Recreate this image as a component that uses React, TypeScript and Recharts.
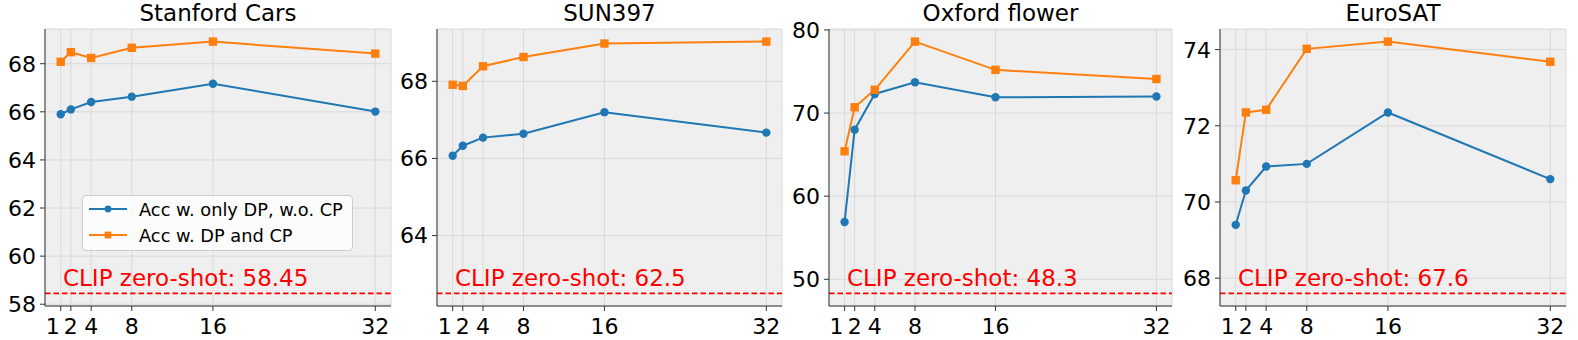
import { LineChart, Line, XAxis, YAxis, CartesianGrid, ReferenceLine } from "recharts";

const shots = [1, 2, 4, 8, 16, 32];

const carsOnlyDp = [65.9, 66.1, 66.41, 66.63, 67.17, 66.01];
const carsDpCp = [68.08, 68.48, 68.24, 68.66, 68.92, 68.42];
const sunOnlyDp = [66.07, 66.33, 66.54, 66.64, 67.2, 66.67];
const sunDpCp = [67.91, 67.88, 68.39, 68.63, 68.98, 69.03];
const flowerOnlyDp = [56.9, 68.0, 72.3, 73.7, 71.9, 72.0];
const flowerDpCp = [65.4, 70.7, 72.8, 78.6, 75.2, 74.1];
const eurosatOnlyDp = [69.4, 70.3, 70.93, 71.0, 72.35, 70.6];
const eurosatDpCp = [70.57, 72.35, 72.42, 74.02, 74.21, 73.68];

const titles = ["Stanford Cars", "SUN397", "Oxford flower", "EuroSAT"];
const zeroShot = [58.45, 62.5, 48.3, 67.6];
const yTicks = [
    [58, 60, 62, 64, 66, 68],
    [64, 66, 68],
    [50, 60, 70, 80],
    [68, 70, 72, 74],
];
const seriesNames = ["Acc w. only DP, w.o. CP", "Acc w. DP and CP"];

const onlyDp = [carsOnlyDp, sunOnlyDp, flowerOnlyDp, eurosatOnlyDp];
const dpCp = [carsDpCp, sunDpCp, flowerDpCp, eurosatDpCp];

// plot-area left/right edges for each panel (px)
const PLOT_X = [
    [45, 391],
    [437, 782],
    [829, 1172],
    [1220, 1566],
];

const BLUE = "#1f77b4";
const ORANGE = "#ff7f0e";
const RED = "#ff0000";
const FONT = "'DejaVu Sans', sans-serif";
const Y_AXIS_W = 45;
const TOP = 29;
const X_AXIS_H = 34;
const H = 340;
const TICK_FS = 22;

// matplotlib style 5% auto margins
function pad(lo: number, hi: number): [number, number] {
    const m = (hi - lo) * 0.05;
    return [lo - m, hi + m];
}

function SquareDot(props: any) {
    const { cx, cy } = props;
    if (cx == null || cy == null) return null;
    return <rect x={cx - 4.2} y={cy - 4.2} width={8.4} height={8.4} fill={ORANGE} />;
}

function XTick(props: any) {
    const { x, y, payload } = props;
    // the "1" label sits a bit left of its tick in the original
    const dx = payload.value === 1 ? -8 : 0;
    return (
        <text x={x + dx} y={y} dy="0.78em" textAnchor="middle" fontSize={TICK_FS} fontFamily={FONT} fill="#000">
            {payload.value}
        </text>
    );
}

function YTick(props: any) {
    const { x, y, payload } = props;
    return (
        <text x={x} y={y} dy="0.36em" textAnchor="end" fontSize={TICK_FS} fontFamily={FONT} fill="#000">
            {payload.value}
        </text>
    );
}

function ZeroShotLabel(props: any) {
    const { viewBox, text } = props;
    if (!viewBox) return null;
    return (
        <text x={viewBox.x + 18} y={viewBox.y - 7} fill={RED} fontSize={23} fontFamily={FONT}>
            {text}
        </text>
    );
}

function Panel({ idx }: { idx: number }) {
    const [plotL, plotR] = PLOT_X[idx];
    const left = plotL - Y_AXIS_W;
    const width = plotR - left + 2;
    const data = shots.map((s, i) => ({ shot: s, onlyDp: onlyDp[idx][i], dpCp: dpCp[idx][i] }));
    const all = [...onlyDp[idx], ...dpCp[idx], zeroShot[idx]];
    const yDomain = pad(Math.min(...all), Math.max(...all));
    const xDomain = pad(shots[0], shots[shots.length - 1]);

    return (
        <div style={{ position: "absolute", left, top: 0, width, height: H }}>
            <div
                style={{
                    position: "absolute", left: Y_AXIS_W, width: plotR - plotL, top: 2,
                    textAlign: "center", fontSize: 23, lineHeight: "23px", color: "#000",
                }}
            >
                {titles[idx]}
            </div>
            <LineChart width={width} height={H} data={data} margin={{ top: TOP, right: 2, bottom: 0, left: 0 }}>
                <CartesianGrid stroke="#d9d9d9" fill="#efefef" />
                <XAxis
                    dataKey="shot" type="number" domain={xDomain} ticks={shots} allowDataOverflow
                    height={X_AXIS_H} tick={<XTick />} tickSize={5} tickMargin={6}
                    stroke="#333" interval={0}
                />
                <XAxis
                    xAxisId="top" orientation="top" dataKey="shot" type="number" domain={xDomain}
                    height={0} tick={false} tickLine={false} stroke="#333"
                />
                <YAxis
                    type="number" domain={yDomain} ticks={yTicks[idx]} allowDataOverflow
                    width={Y_AXIS_W} tick={<YTick />} tickSize={5} tickMargin={4}
                    stroke="#333" interval={0}
                />
                <YAxis
                    yAxisId="right" orientation="right" type="number" domain={yDomain}
                    width={0} tick={false} tickLine={false} stroke="#333"
                />
                <ReferenceLine
                    y={zeroShot[idx]} stroke={RED} strokeWidth={1.8} strokeDasharray="5.5 3"
                    label={<ZeroShotLabel text={`CLIP zero-shot: ${zeroShot[idx]}`} />}
                />
                <Line
                    dataKey="onlyDp" name={seriesNames[0]} stroke={BLUE} strokeWidth={2}
                    dot={{ r: 4.2, fill: BLUE, stroke: BLUE, strokeWidth: 0 }}
                    isAnimationActive={false}
                />
                <Line
                    dataKey="dpCp" name={seriesNames[1]} stroke={ORANGE} strokeWidth={2}
                    dot={(p: any) => <SquareDot key={p.index} {...p} />}
                    isAnimationActive={false}
                />
            </LineChart>
        </div>
    );
}

function LegendBox() {
    return (
        <div
            style={{
                position: "absolute", left: 82, top: 195, width: 271, height: 56,
                boxSizing: "border-box", border: "1px solid #cccccc", borderRadius: 4,
                background: "rgba(255,255,255,0.8)",
            }}
        >
            <svg width={269} height={54} style={{ position: "absolute", left: 0, top: 0 }}>
                <line x1={6} x2={44} y1={13} y2={13} stroke={BLUE} strokeWidth={2} />
                <circle cx={25} cy={13} r={3.4} fill={BLUE} />
                <text x={56} y={20} fontSize={17.8} fontFamily={FONT} fill="#000">{seriesNames[0]}</text>
                <line x1={6} x2={44} y1={39} y2={39} stroke={ORANGE} strokeWidth={2} />
                <rect x={21.6} y={35.6} width={6.8} height={6.8} fill={ORANGE} />
                <text x={56} y={46.3} fontSize={17.8} fontFamily={FONT} fill="#000">{seriesNames[1]}</text>
            </svg>
        </div>
    );
}

export default function App() {
    return (
        <div
            style={{
                position: "absolute", left: 0, top: 0, width: 1578, height: H,
                background: "#fff", fontFamily: FONT, overflow: "hidden",
            }}
        >
            {titles.map((_, i) => (
                <Panel key={i} idx={i} />
            ))}
            <LegendBox />
        </div>
    );
}
